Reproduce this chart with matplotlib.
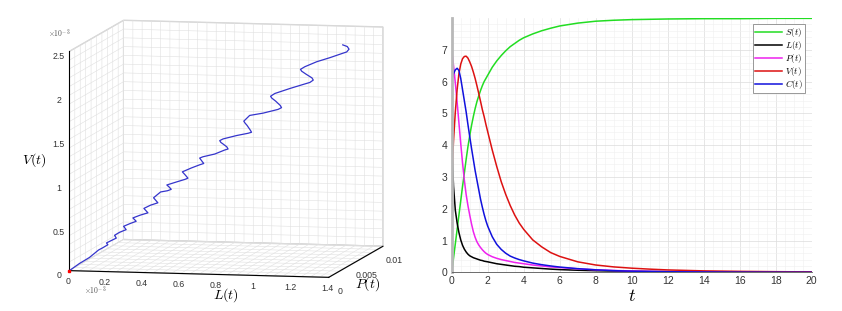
import numpy as np
import matplotlib
matplotlib.use("Agg")
import matplotlib.pyplot as plt
from matplotlib.ticker import FuncFormatter, MultipleLocator

# ---- left panel: trajectory (L, V in units of 1e-3) ----
L_e3 = [0, 0.047, 0.095, 0.137, 0.156, 0.182, 0.173, 0.193, 0.221, 0.209,
        0.233, 0.266, 0.249, 0.279, 0.312, 0.291, 0.327, 0.367, 0.341, 0.374,
        0.411, 0.383, 0.415, 0.452, 0.470, 0.456, 0.442, 0.492, 0.533, 0.549,
        0.531, 0.513, 0.559, 0.599, 0.620, 0.606, 0.593, 0.609, 0.670, 0.720,
        0.737, 0.728, 0.705, 0.692, 0.684, 0.700, 0.769, 0.830,
        0.847, 0.838, 0.817, 0.803, 0.795, 0.821,
        0.891, 0.968, 0.985, 0.976, 0.948, 0.923, 0.915, 0.935, 1.011, 1.079, 1.113,
        1.129, 1.120, 1.084, 1.058, 1.050, 1.071, 1.130, 1.197, 1.248, 1.282,
        1.292, 1.280, 1.254]
P_traj = [0, 0.00024, 0.00044, 0.0007, 0.00077, 0.00088, 0.00093, 0.001, 0.0011, 0.00119,
          0.00129, 0.00138, 0.00149, 0.00158, 0.00166, 0.00177, 0.00186, 0.00195, 0.00209, 0.0022,
          0.00228, 0.00244, 0.00264, 0.00268, 0.00273, 0.00281, 0.00287, 0.00298, 0.00307, 0.00311,
          0.00321, 0.00331, 0.00345, 0.00356, 0.0036, 0.00369, 0.00377, 0.00382, 0.00392, 0.00406,
          0.00409, 0.00416, 0.00425, 0.0043, 0.00436, 0.00442, 0.00454, 0.00462,
          0.00466, 0.00473, 0.00487, 0.00495, 0.00501, 0.0052,
          0.00529, 0.00543, 0.00548, 0.00555, 0.00569, 0.00579, 0.00585, 0.00594, 0.00611, 0.00626, 0.00633,
          0.00641, 0.00648, 0.0066, 0.00669, 0.00675, 0.00683, 0.00701, 0.00715, 0.00727, 0.00735,
          0.00744, 0.00753, 0.00758]
V_e3 = [0, 0.075, 0.139, 0.218, 0.240, 0.274, 0.292, 0.314, 0.344, 0.372,
        0.404, 0.433, 0.466, 0.494, 0.521, 0.554, 0.584, 0.610, 0.654, 0.689,
        0.715, 0.765, 0.826, 0.841, 0.856, 0.879, 0.899, 0.933, 0.960, 0.974,
        1.007, 1.037, 1.080, 1.113, 1.128, 1.155, 1.182, 1.196, 1.227, 1.271,
        1.282, 1.304, 1.332, 1.347, 1.365, 1.383, 1.421, 1.448,
        1.459, 1.481, 1.527, 1.552, 1.570, 1.630,
        1.657, 1.699, 1.718, 1.740, 1.781, 1.813, 1.831, 1.860, 1.915, 1.960, 1.982,
        2.007, 2.029, 2.066, 2.095, 2.113, 2.141, 2.195, 2.240, 2.278, 2.303,
        2.332, 2.358, 2.374]

# ---- right panel: time series ----
t = [0, 0.1, 0.2, 0.3, 0.4, 0.5, 0.6, 0.7, 0.8, 0.9, 1.0, 1.1, 1.2, 1.3, 1.4,
     1.5, 1.6, 1.7, 1.8, 1.9, 2.0, 2.25, 2.5, 2.75, 3.0, 3.25, 3.5, 3.75, 4.0,
     4.5, 5, 5.5, 6, 7, 8, 9, 10, 11, 12, 14, 16, 18, 20]
S = [0, 0.45, 0.9, 1.35, 1.8, 2.25, 2.7, 3.12, 3.55, 3.95, 4.3, 4.62, 4.9, 5.15, 5.37,
     5.55, 5.72, 5.87, 6.0, 6.1, 6.2, 6.45, 6.65, 6.82, 6.97, 7.1, 7.2, 7.3, 7.38,
     7.5, 7.6, 7.68, 7.75, 7.84, 7.9, 7.93, 7.95, 7.96, 7.97, 7.98, 7.98, 7.99, 7.99]
L = [4.0, 2.7, 1.95, 1.55, 1.25, 1.02, 0.85, 0.73, 0.64, 0.57, 0.52, 0.49, 0.46, 0.44, 0.42,
     0.40, 0.38, 0.37, 0.35, 0.34, 0.33, 0.30, 0.27, 0.25, 0.23, 0.21, 0.19, 0.18, 0.16,
     0.14, 0.12, 0.10, 0.085, 0.065, 0.05, 0.04, 0.03, 0.025, 0.02, 0.013, 0.009, 0.006, 0.004]
P = [7.0, 6.5, 5.95, 5.35, 4.7, 4.05, 3.45, 2.9, 2.45, 2.1, 1.8, 1.52, 1.28, 1.1, 0.96,
     0.86, 0.78, 0.71, 0.65, 0.6, 0.56, 0.49, 0.44, 0.40, 0.37, 0.34, 0.31, 0.29, 0.27,
     0.23, 0.2, 0.17, 0.15, 0.11, 0.08, 0.058, 0.042, 0.032, 0.024, 0.014, 0.008, 0.005, 0.003]
V = [3.0, 4.15, 5.05, 5.75, 6.25, 6.55, 6.72, 6.79, 6.8, 6.74, 6.62, 6.48, 6.3, 6.1, 5.87,
     5.63, 5.38, 5.12, 4.9, 4.65, 4.42, 3.85, 3.33, 2.85, 2.45, 2.1, 1.8, 1.55, 1.35,
     1.02, 0.8, 0.62, 0.5, 0.33, 0.23, 0.17, 0.13, 0.1, 0.075, 0.045, 0.03, 0.02, 0.013]
C = [6.05, 6.25, 6.37, 6.42, 6.35, 6.1, 5.75, 5.4, 5.05, 4.65, 4.27, 3.9, 3.55, 3.2, 2.9,
     2.6, 2.3, 2.05, 1.82, 1.62, 1.45, 1.12, 0.88, 0.72, 0.6, 0.51, 0.45, 0.4, 0.36,
     0.29, 0.24, 0.2, 0.165, 0.115, 0.078, 0.052, 0.036, 0.026, 0.018, 0.01, 0.006, 0.004, 0.002]

plt.rcParams['font.family'] = ['Liberation Sans', 'DejaVu Sans']
plt.rcParams['mathtext.fontset'] = 'cm'

fig = plt.figure(figsize=(8.42, 3.11), dpi=100)

# ================= 3D panel =================
ax = fig.add_axes([0.0036, 0.008, 0.52, 1.0], projection='3d', proj_type='ortho')
ax.plot(L_e3, P_traj, V_e3, color='#3535cc', lw=0.9)
ax.plot([0], [0], [0], 's', color='red', ms=2)
ax.set_xlim(0, 1.4)
ax.set_ylim(0, 0.01)
ax.set_zlim(0, 2.5)
ax.set_box_aspect((1.2, 1.18, 1.0), zoom=1.35)
ax.view_init(elev=7, azim=-78)

def only_major(step):
    def f(v, pos):
        k = v / step
        if abs(k - round(k)) < 1e-6:
            return '%g' % round(v, 4)
        return ''
    return FuncFormatter(f)

ax.xaxis.set_major_locator(MultipleLocator(0.05))
ax.xaxis.set_major_formatter(only_major(0.2))
ax.yaxis.set_major_locator(MultipleLocator(0.001))
ax.yaxis.set_major_formatter(only_major(0.005))
ax.zaxis.set_major_locator(MultipleLocator(0.1))
ax.zaxis.set_major_formatter(only_major(0.5))
ax.zaxis.set_ticks_position('lower')

for axis in (ax.xaxis, ax.yaxis, ax.zaxis):
    axis.set_pane_color((1, 1, 1, 1))
    axis.pane.set_edgecolor('#d0d0d0')
    axis._axinfo['grid']['color'] = (0.88, 0.88, 0.88, 1)
    axis._axinfo['grid']['linewidth'] = 0.4
    axis._axinfo['tick']['inward_factor'] = 0
    axis._axinfo['tick']['outward_factor'] = 0
    axis._axinfo['axisline']['color'] = (0.55, 0.55, 0.55, 1)
    axis.line.set_linewidth(0.8)
ax.tick_params(labelsize=6.3, colors='#333333')
ax.xaxis.set_tick_params(pad=-5)
ax.yaxis.set_tick_params(pad=-3)
ax.zaxis.set_tick_params(pad=-4)

fig.text(0.026, 0.486, '$V(t)$', fontsize=10, ha='left', va='center')
fig.text(0.268, 0.05, '$L(t)$', fontsize=10, ha='center', va='center')
fig.text(0.437, 0.085, '$P(t)$', fontsize=10, ha='center', va='center')
fig.text(0.057, 0.892, r'$\times10^{-3}$', fontsize=5.5, color='#555555', va='center')
fig.text(0.1, 0.067, r'$\times10^{-3}$', fontsize=5.5, color='#555555', va='center')

# ================= 2D panel =================
ax2 = fig.add_axes([0.5365, 0.1244, 0.4275, 0.8166])
ax2.plot(t, S, color='#22dd22', lw=1.1, label='$S(t)$')
ax2.plot(t, L, color='#000000', lw=1.1, label='$L(t)$')
ax2.plot(t, P, color='#ee22ee', lw=1.1, label='$P(t)$')
ax2.plot(t, V, color='#dd1111', lw=1.1, label='$V(t)$')
ax2.plot(t, C, color='#1111dd', lw=1.1, label='$C(t)$')
ax2.set_xlim(0, 20)
ax2.set_ylim(0, max(S))
ax2.xaxis.set_major_locator(MultipleLocator(2))
ax2.xaxis.set_minor_locator(MultipleLocator(0.5))
ax2.yaxis.set_major_locator(MultipleLocator(1))
ax2.yaxis.set_minor_locator(MultipleLocator(0.2))
ax2.grid(which='major', color='#dcdcdc', lw=0.5)
ax2.grid(which='minor', color='#efefef', lw=0.4)
ax2.set_axisbelow(True)
for s in ('top', 'right'):
    ax2.spines[s].set_visible(False)
ax2.spines['left'].set_color('#b8b8b8')
ax2.spines['left'].set_linewidth(2)
ax2.spines['bottom'].set_color('#555555')
ax2.spines['bottom'].set_linewidth(0.6)
ax2.tick_params(which='both', length=0, labelsize=7.5, colors='#333333', pad=3)
ax2.set_xlabel('$t$', fontsize=13)
ax2.xaxis.set_label_coords(0.5, -0.06)
leg = ax2.legend(loc='upper right', bbox_to_anchor=(0.981, 0.977), fontsize=6.5,
                 handlelength=3.0, labelspacing=0.0, borderpad=0.2,
                 handletextpad=0.4, borderaxespad=0, fancybox=False, framealpha=1)
leg.get_frame().set_edgecolor('#888888')
leg.get_frame().set_linewidth(0.6)

fig.savefig('out.png', dpi=100)
